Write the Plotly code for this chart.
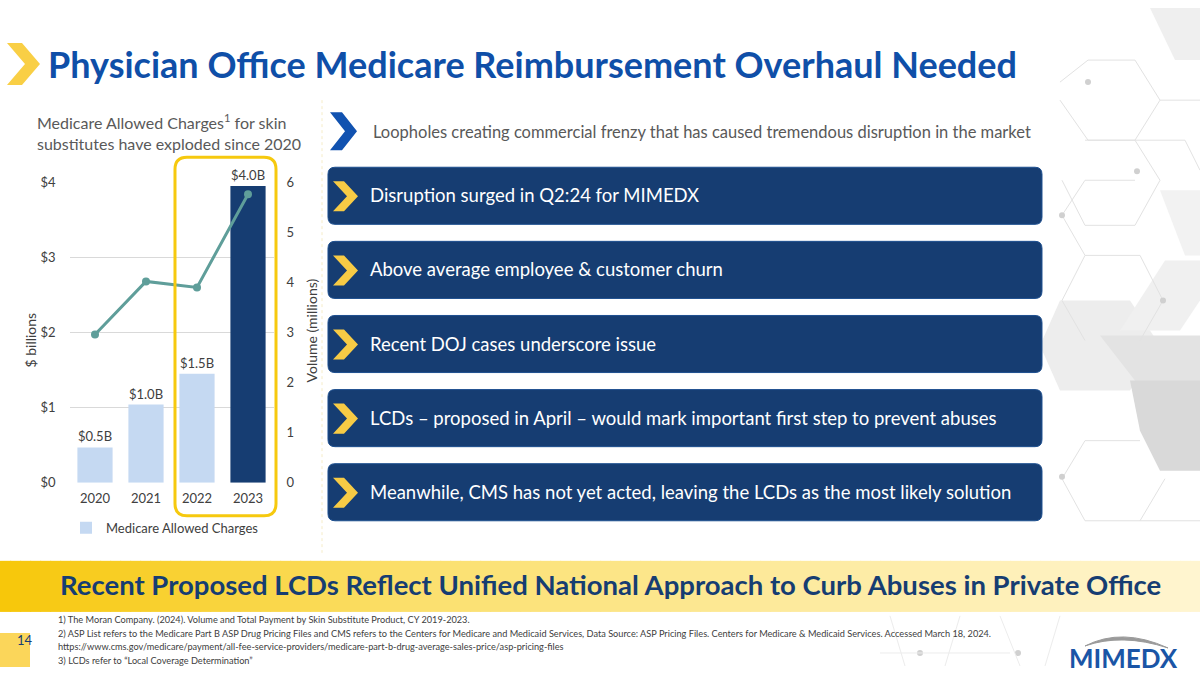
import plotly.graph_objects as go

# ---------------- data ----------------
years = ["2020", "2021", "2022", "2023"]
charges_bn = [0.47, 1.04, 1.45, 3.95]
charge_labels = ["$0.5B", "$1.0B", "$1.5B", "$4.0B"]
volume_mn = [2.96, 4.02, 3.90, 5.76]
bar_colors = ["#c5d9f2", "#c5d9f2", "#c5d9f2", "#163d72"]

bullets = [
    "Disruption surged in Q2:24 for MIMEDX",
    "Above average employee & customer churn",
    "Recent DOJ cases underscore issue",
    "LCDs – proposed in April – would mark important first step to prevent abuses",
    "Meanwhile, CMS has not yet acted, leaving the LCDs as the most likely solution",
]
footnotes = [
    "1) The Moran Company. (2024). Volume and Total Payment by Skin Substitute Product, CY 2019-2023.",
    "2) ASP List refers to the Medicare Part B ASP Drug Pricing Files and CMS refers to the Centers for Medicare and Medicaid Services, Data Source: ASP Pricing Files. Centers for Medicare & Medicaid Services. Accessed March 18, 2024.",
    "https://www.cms.gov/medicare/payment/all-fee-service-providers/medicare-part-b-drug-average-sales-price/asp-pricing-files",
    "3) LCDs refer to \u201cLocal Coverage Determination\u201d",
]

W, H = 1200, 675
FONT = "Lato, Noto Sans, sans-serif"
NAVY = "#163d72"
BLUE = "#0f4fa8"
GRAY = "#595959"

# the photographed page shows the figure between y=8 and y=666
TOP_OFF, VIS_H = 8.0, 658.0


def X(px):
    return px / W


def Y(py):
    return 1 - (py - TOP_OFF) / VIS_H


def poly(points):
    return "M " + " L ".join(f"{X(a):.5f},{Y(b):.5f}" for a, b in points) + " Z"


def polyline(points):
    return "M " + " L ".join(f"{X(a):.5f},{Y(b):.5f}" for a, b in points)


def rrect(x0, y0, x1, y1, r):
    p = [
        f"M {X(x0 + r):.5f},{Y(y0):.5f}",
        f"L {X(x1 - r):.5f},{Y(y0):.5f}",
        f"Q {X(x1):.5f},{Y(y0):.5f} {X(x1):.5f},{Y(y0 + r):.5f}",
        f"L {X(x1):.5f},{Y(y1 - r):.5f}",
        f"Q {X(x1):.5f},{Y(y1):.5f} {X(x1 - r):.5f},{Y(y1):.5f}",
        f"L {X(x0 + r):.5f},{Y(y1):.5f}",
        f"Q {X(x0):.5f},{Y(y1):.5f} {X(x0):.5f},{Y(y1 - r):.5f}",
        f"L {X(x0):.5f},{Y(y0 + r):.5f}",
        f"Q {X(x0):.5f},{Y(y0):.5f} {X(x0 + r):.5f},{Y(y0):.5f} Z",
    ]
    return " ".join(p)


def chevron(x0, y0, w, h, t):
    return poly([(x0, y0), (x0 + t, y0), (x0 + w, y0 + h / 2), (x0 + t, y0 + h),
                 (x0, y0 + h), (x0 + w - t, y0 + h / 2)])


shapes = []
annotations = []

# ---------- background hexagon decoration (right side) ----------
hex_fill = [
    ([(1150, 8), (1200, 8), (1200, 60), (1175, 60)], "#efefef"),
    ([(1160, 190), (1200, 190), (1200, 255), (1185, 255)], "#f2f2f2"),
    ([(1060, 300), (1130, 300), (1160, 345), (1130, 390), (1060, 390), (1040, 345)], "#ededed"),
    ([(1100, 335), (1200, 335), (1200, 430), (1170, 430), (1135, 380)], "#e3e3e3"),
    ([(1130, 380), (1200, 380), (1200, 470), (1160, 470), (1140, 430)], "#d9d9d9"),
    ([(1120, 330), (1180, 330), (1200, 300), (1200, 260), (1165, 260)], "#f0f0f0"),
]
for pts, c in hex_fill:
    shapes.append(dict(type="path", xref="paper", yref="paper", path=poly(pts),
                       fillcolor=c, line=dict(width=0), layer="below"))
hex_lines = [
    [(1060, 82), (1088, 60), (1135, 60), (1160, 100), (1135, 140), (1088, 140), (1060, 100)],
    [(1085, 140), (1135, 140), (1160, 180), (1135, 225), (1085, 225), (1062, 180)],
    [(1135, 140), (1185, 140), (1200, 170)],
    [(1062, 215), (1085, 180), (1135, 180)],
    [(1062, 215), (1085, 255), (1140, 255), (1163, 300), (1140, 340)],
    [(1085, 255), (1062, 300), (1085, 340)],
    [(1160, 100), (1200, 100)],
    [(1062, 478), (1085, 440), (1140, 440)],
    [(1062, 478), (1085, 520), (1140, 520), (1165, 478)],
    [(1140, 520), (1200, 520)],
]
for pts in hex_lines:
    shapes.append(dict(type="path", xref="paper", yref="paper", path=polyline(pts),
                       line=dict(color="#e2e2e2", width=1), layer="below"))
for cx, cy in [(1088, 82), (1137, 171), (1062, 215), (1163, 300), (1062, 476),
               (920, 652), (1018, 652)]:
    shapes.append(dict(type="circle", xref="paper", yref="paper",
                       x0=X(cx - 3), x1=X(cx + 3), y0=Y(cy + 3), y1=Y(cy - 3),
                       fillcolor="#d0d0d0", line=dict(width=0), layer="below"))
for pts in [[(890, 615), (905, 665)], [(960, 615), (945, 665)], [(1000, 615), (1020, 665)],
            [(1060, 615), (1045, 665)], [(880, 652), (1010, 652)]]:
    shapes.append(dict(type="path", xref="paper", yref="paper", path=polyline(pts),
                       line=dict(color="#ececec", width=1), layer="below"))

# ---------- title ----------
shapes.append(dict(type="path", xref="paper", yref="paper", path=chevron(7, 43, 33, 42, 15),
                   fillcolor="#f9cf45", line=dict(width=0)))
annotations.append(dict(text="<b>Physician Office Medicare Reimbursement Overhaul Needed</b>",
                        x=X(46), y=Y(64), xref="paper", yref="paper", xanchor="left",
                        yanchor="middle", showarrow=False,
                        font=dict(family=FONT, size=36, color=BLUE)))

# ---------- chart subtitle ----------
annotations.append(dict(text="Medicare Allowed Charges<sup>1</sup> for skin<br>substitutes have exploded since 2020",
                        x=X(35), y=Y(132), xref="paper", yref="paper", xanchor="left",
                        yanchor="middle", align="left", showarrow=False,
                        font=dict(family=FONT, size=16, color=GRAY)))

# separator
shapes.append(dict(type="line", xref="paper", yref="paper", x0=X(322), x1=X(322),
                   y0=Y(100), y1=Y(552), line=dict(color="#f5ecc8", width=1, dash="dot")))

# highlight box around 2022-2023
shapes.append(dict(type="path", xref="paper", yref="paper", path=rrect(175, 157, 276, 515, 12),
                   line=dict(color="#f6c90e", width=3), fillcolor="rgba(0,0,0,0)"))

# axis titles
annotations.append(dict(text="$ billions", x=X(31), y=Y(340), xref="paper", yref="paper",
                        textangle=-90, showarrow=False, xanchor="center", yanchor="middle",
                        font=dict(family=FONT, size=14, color="#404040")))
annotations.append(dict(text="Volume (millions)", x=X(311), y=Y(330), xref="paper", yref="paper",
                        textangle=-90, showarrow=False, xanchor="center", yanchor="middle",
                        font=dict(family=FONT, size=14, color="#404040")))

# ---------- right panel ----------
shapes.append(dict(type="path", xref="paper", yref="paper", path=chevron(330, 112, 27, 38, 12),
                   fillcolor="#1152b0", line=dict(width=0)))
annotations.append(dict(text="Loopholes creating commercial frenzy that has caused tremendous disruption in the market",
                        x=X(371), y=Y(132), xref="paper", yref="paper", xanchor="left",
                        yanchor="middle", showarrow=False,
                        font=dict(family=FONT, size=16.5, color=GRAY)))
box_tops = [167, 241, 315, 389, 463]
for top, txt in zip(box_tops, bullets):
    shapes.append(dict(type="path", xref="paper", yref="paper",
                       path=rrect(328, top, 1042, top + 57, 7),
                       fillcolor=NAVY, line=dict(color="#1d4f8f", width=1)))
    shapes.append(dict(type="path", xref="paper", yref="paper",
                       path=chevron(333, top + 14, 25, 30, 11),
                       fillcolor="#f7cb45", line=dict(width=0)))
    annotations.append(dict(text=txt, x=X(368), y=Y(top + 28), xref="paper", yref="paper",
                            xanchor="left", yanchor="middle", showarrow=False,
                            font=dict(family=FONT, size=18.5, color="white")))

# ---------- bottom banner (gradient) ----------
n = 120
c0, c1, c2 = (247, 199, 10), (251, 224, 110), (255, 245, 208)
for i in range(n):
    t = i / (n - 1)
    if t < 0.35:
        u = t / 0.35
        c = [round(c0[k] + (c1[k] - c0[k]) * u) for k in range(3)]
    else:
        u = (t - 0.35) / 0.65
        c = [round(c1[k] + (c2[k] - c1[k]) * u) for k in range(3)]
    shapes.append(dict(type="rect", xref="paper", yref="paper",
                       x0=i / n, x1=(i + 1) / n + 0.001, y0=Y(611), y1=Y(560),
                       fillcolor=f"rgb({c[0]},{c[1]},{c[2]})", line=dict(width=0), layer="below"))
annotations.append(dict(text="<b>Recent Proposed LCDs Reflect Unified National Approach to Curb Abuses in Private Office</b>",
                        x=X(610), y=Y(584), xref="paper", yref="paper", xanchor="center",
                        yanchor="middle", showarrow=False,
                        font=dict(family=FONT, size=27.5, color=NAVY)))

# footnotes
for i, fn in enumerate(footnotes):
    annotations.append(dict(text=fn, x=X(56), y=Y(619 + i * 13.5), xref="paper", yref="paper",
                            xanchor="left", yanchor="middle", showarrow=False,
                            font=dict(family=FONT, size=9.2, color="#404040")))

# page number
shapes.append(dict(type="rect", xref="paper", yref="paper", x0=0, x1=X(30), y0=Y(666), y1=Y(632),
                   fillcolor="#fbd65a", line=dict(width=0)))
annotations.append(dict(text="14", x=X(15), y=Y(649), xref="paper", yref="paper",
                        showarrow=False, font=dict(family=FONT, size=13, color=NAVY)))

# logo
shapes.append(dict(type="path", xref="paper", yref="paper",
                   path=(f"M {X(1085):.5f},{Y(645):.5f} Q {X(1122):.5f},{Y(626):.5f} {X(1168):.5f},{Y(647):.5f} "
                         f"Q {X(1122):.5f},{Y(632):.5f} {X(1085):.5f},{Y(645):.5f} Z"),
                   fillcolor="#9a9a9a", line=dict(color="#9a9a9a", width=1)))
annotations.append(dict(text="<b>MIMEDX</b>", x=X(1123), y=Y(657), xref="paper", yref="paper",
                        showarrow=False, xanchor="center", yanchor="middle",
                        font=dict(family=FONT, size=26, color="#1a55a6")))

# ---------- chart traces ----------
fig = go.Figure()
fig.add_trace(go.Bar(x=years, y=charges_bn, name="Medicare Allowed Charges",
                     marker=dict(color=bar_colors, line=dict(width=0)),
                     text=charge_labels, textposition="outside", cliponaxis=False,
                     textfont=dict(family=FONT, size=13, color="#404040"),
                     showlegend=True, yaxis="y"))
fig.add_trace(go.Scatter(x=years, y=volume_mn, mode="lines+markers", name="Volume",
                         line=dict(color="#5f9e9a", width=3),
                         marker=dict(size=8, color="#5f9e9a"),
                         showlegend=False, yaxis="y2", cliponaxis=False))

fig.update_layout(
    width=W, height=H,
    margin=dict(l=0, r=0, t=0, b=0),
    paper_bgcolor="white", plot_bgcolor="rgba(0,0,0,0)",
    font=dict(family=FONT, color=GRAY),
    bargap=0.31,
    xaxis=dict(domain=[X(69.5), X(273.5)], type="category", range=[-0.5, 3.5],
               showgrid=False, showline=False, ticks="", ticklabelstandoff=6,
               tickfont=dict(size=13, color="#404040"), anchor="y"),
    yaxis=dict(domain=[Y(482), Y(182)], range=[0, 4], dtick=1, tickprefix="$",
               showgrid=True, gridcolor="#d9d9d9", gridwidth=1, zeroline=False,
               showline=False, ticks="", ticklabelstandoff=13,
               tickfont=dict(size=13, color="#404040")),
    yaxis2=dict(overlaying="y", side="right", range=[0, 6], dtick=1, showgrid=False,
                zeroline=False, showline=False, ticks="", ticklabelstandoff=12,
                tickfont=dict(size=13, color="#404040"), anchor="x"),
    legend=dict(x=X(66), y=Y(527), xanchor="left", yanchor="middle", orientation="h",
                font=dict(size=13, color="#404040"), bgcolor="rgba(0,0,0,0)",
                itemwidth=30),
    shapes=shapes,
    annotations=annotations,
)

fig.write_html("out.html", config={"displayModeBar": False},
               post_script="document.body.style.margin='0';document.body.style.overflow='hidden';")
